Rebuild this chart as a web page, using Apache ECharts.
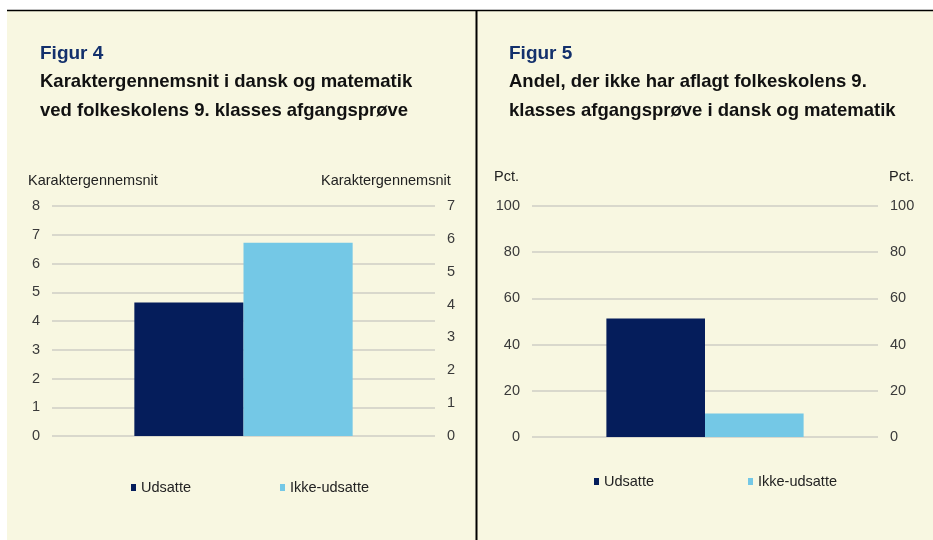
<!DOCTYPE html>
<html>
<head>
<meta charset="utf-8">
<script src="https://cdn.jsdelivr.net/npm/echarts@6/dist/echarts.min.js"></script>
<style>
    html, body { margin: 0; padding: 0; background: #ffffff; }
    #chart { width: 933px; height: 540px; }
</style>
</head>
<body>
<div id="chart"></div>
<script>
// one category per figure, two series each
const categories = [""];
const seriesNames = ["Udsatte", "Ikke-udsatte"];

// Figur 4: karaktergennemsnit
const fig4Udsatte = [4.64];
const fig4IkkeUdsatte = [6.72];
const fig4LeftTicks = [0, 8, 1];
const fig4RightTicks = [0, 7, 1];

// Figur 5: andel uden afgangsproeve, pct.
const fig5Udsatte = [51.3];
const fig5IkkeUdsatte = [10.2];
const fig5Ticks = [0, 100, 20];

const cream = "#f8f7e1";
const navy = "#051d5b";
const lightBlue = "#74c8e6";
const gridColor = "#cfcec4";
const labelColor = "#3a3a3a";
const font = "Liberation Sans, Arial, sans-serif";

const chart = echarts.init(document.getElementById("chart"), null, { width: 933, height: 540 });

function titleLine(text, left, top, size, color) {
    return {
        text: text,
        left: left,
        top: top,
        padding: 0,
        textStyle: { fontFamily: font, fontSize: size, fontWeight: "bold", color: color },
    };
}

function axisName(text, left, top) {
    return {
        text: text,
        left: left,
        top: top,
        padding: 0,
        textStyle: { fontFamily: font, fontSize: 14.5, fontWeight: "normal", color: "#222" },
    };
}

function valueAxis(gridIndex, ticks, position) {
    return {
        type: "value",
        gridIndex: gridIndex,
        position: position,
        min: ticks[0],
        max: ticks[1],
        interval: ticks[2],
        axisLine: { show: false },
        axisTick: { show: false },
        axisLabel: {
            margin: 12,
            color: labelColor,
            fontFamily: font,
            fontSize: 14.5,
        },
        splitLine: { show: position === "left", lineStyle: { color: gridColor, width: 1.5 } },
    };
}

function legendItem(name, left, top) {
    return {
        data: [name],
        left: left,
        top: top,
        padding: 0,
        icon: "rect",
        itemWidth: 5,
        itemHeight: 7,
        selectedMode: false,
        textStyle: { fontFamily: font, fontSize: 14.5, color: "#222" },
    };
}

function bar(name, data, xIndex, yIndex, color) {
    return {
        name: name,
        type: "bar",
        xAxisIndex: xIndex,
        yAxisIndex: yIndex,
        data: data,
        barGap: "0%",
        barCategoryGap: "43%",
        itemStyle: { color: color },
        silent: true,
    };
}

const option = {
    backgroundColor: "#ffffff",
    animation: false,
    graphic: [
        { type: "rect", z: -10, shape: { x: 7, y: 10, width: 926, height: 530 }, style: { fill: cream } },
        { type: "line", z: -5, shape: { x1: 7, y1: 10.5, x2: 933, y2: 10.5 }, style: { stroke: "#000", lineWidth: 1.5 } },
        { type: "line", z: -5, shape: { x1: 476.5, y1: 10, x2: 476.5, y2: 540 }, style: { stroke: "#000", lineWidth: 2 } },
    ],
    title: [
        titleLine("Figur 4", 40, 44, 19, "#13306c"),
        titleLine("Karaktergennemsnit i dansk og matematik", 40, 72, 18.5, "#111"),
        titleLine("ved folkeskolens 9. klasses afgangsprøve", 40, 101, 18.5, "#111"),
        titleLine("Figur 5", 509, 44, 19, "#13306c"),
        titleLine("Andel, der ikke har aflagt folkeskolens 9.", 509, 72, 18.5, "#111"),
        titleLine("klasses afgangsprøve i dansk og matematik", 509, 101, 18.5, "#111"),
        axisName("Karaktergennemsnit", 28, 173),
        axisName("Karaktergennemsnit", 321, 173),
        axisName("Pct.", 494, 169),
        axisName("Pct.", 889, 169),
    ],
    legend: [
        legendItem("Udsatte", 131, 480),
        legendItem("Ikke-udsatte", 280, 480),
        legendItem("Udsatte", 594, 474),
        legendItem("Ikke-udsatte", 748, 474),
    ],
    grid: [
        { left: 52, right: 498, top: 206, bottom: 104 },
        { left: 532, right: 55, top: 206, bottom: 103 },
    ],
    xAxis: [
        { type: "category", gridIndex: 0, data: categories, axisLine: { show: false }, axisTick: { show: false }, axisLabel: { show: false } },
        { type: "category", gridIndex: 1, data: categories, axisLine: { show: false }, axisTick: { show: false }, axisLabel: { show: false } },
    ],
    yAxis: [
        valueAxis(0, fig4LeftTicks, "left"),
        valueAxis(0, fig4RightTicks, "right"),
        valueAxis(1, fig5Ticks, "left"),
        valueAxis(1, fig5Ticks, "right"),
    ],
    series: [
        bar(seriesNames[0], fig4Udsatte, 0, 0, navy),
        bar(seriesNames[1], fig4IkkeUdsatte, 0, 0, lightBlue),
        bar(seriesNames[0], fig5Udsatte, 1, 2, navy),
        bar(seriesNames[1], fig5IkkeUdsatte, 1, 2, lightBlue),
    ],
};

chart.setOption(option);
</script>
</body>
</html>
